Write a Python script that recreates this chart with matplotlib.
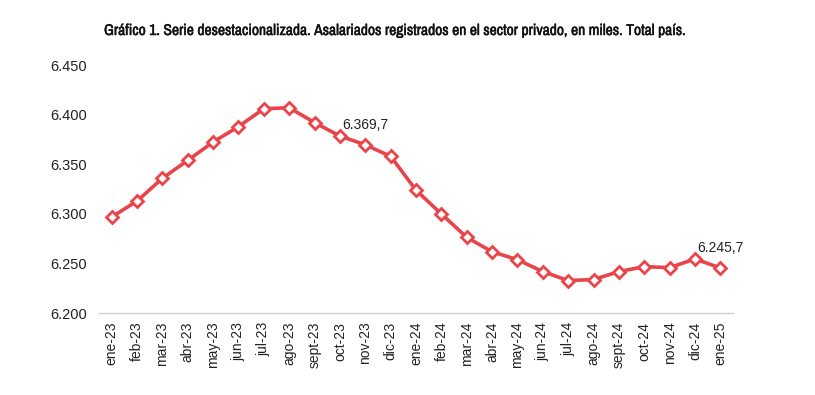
import matplotlib
matplotlib.use("Agg")
import matplotlib.pyplot as plt
from matplotlib import font_manager
import matplotlib.patheffects as pe

months = ["ene-23", "feb-23", "mar-23", "abr-23", "may-23", "jun-23", "jul-23", "ago-23",
          "sept-23", "oct-23", "nov-23", "dic-23", "ene-24", "feb-24", "mar-24", "abr-24",
          "may-24", "jun-24", "jul-24", "ago-24", "sept-24", "oct-24", "nov-24", "dic-24", "ene-25"]
values = [6297, 6313, 6336, 6354, 6372.5, 6388, 6406, 6407,
          6392, 6378.5, 6369.7, 6358, 6324, 6300, 6276.5, 6262,
          6254, 6242, 6233, 6234, 6242, 6247, 6246, 6254.7, 6245.7]
labels = {10: "6.369,7", 24: "6.245,7"}
yticks = [6200, 6250, 6300, 6350, 6400, 6450]
yticklabels = ["6.200", "6.250", "6.300", "6.350", "6.400", "6.450"]
title = "Gráfico 1. Serie desestacionalizada. Asalariados registrados en el sector privado, en miles. Total país."

names = {f.name for f in font_manager.fontManager.ttflist}
cond = sorted(n for n in names if ("Condensed" in n or "Narrow" in n))
title_font = cond[0] if cond else "Roboto"

fig = plt.figure(figsize=(8.15, 3.95), dpi=100)
ax = fig.add_axes([0.1215, 0.2068, 0.7779, 0.6286])
red = "#E8444A"
x = list(range(len(months)))
ax.plot(x, values, color=red, lw=2.6, marker="D", markersize=6.5,
        markerfacecolor="white", markeredgecolor=red, markeredgewidth=2.0, zorder=3)

for i, t in labels.items():
    ax.annotate(t, (x[i], values[i]), xytext=(0, 14.5), textcoords="offset points",
                ha="center", va="center", fontsize=10, family="Liberation Sans", color="#222222")

ax.set_xlim(-0.5, 24.5)
ax.set_ylim(6200, 6450)
ax.set_yticks(yticks)
ax.set_yticklabels(yticklabels, family="Liberation Sans", fontsize=10.5, color="#222222")
ax.set_xticks(x)
ax.set_xticklabels(months, rotation=90, family="Liberation Sans", fontsize=10, color="#222222")
ax.tick_params(axis="both", length=0)
ax.tick_params(axis="y", pad=9)
ax.tick_params(axis="x", pad=6)
for s in ["top", "right", "left"]:
    ax.spines[s].set_visible(False)
ax.spines["bottom"].set_color("#d0d0d0")
ax.spines["bottom"].set_linewidth(1.0)

tt = fig.text(104 / 815, 1 - 31 / 395, title, family=title_font, fontweight="bold",
              fontsize=10, va="center", ha="left", color="#111111",
              path_effects=[pe.withStroke(linewidth=0.35, foreground="#111111")])
# fit title width to the reference (~586 px)
fig.canvas.draw()
w = tt.get_window_extent(fig.canvas.get_renderer()).width
tt.set_fontsize(min(11.5, 10 * 584 / w))

fig.savefig("out.png", dpi=100)
